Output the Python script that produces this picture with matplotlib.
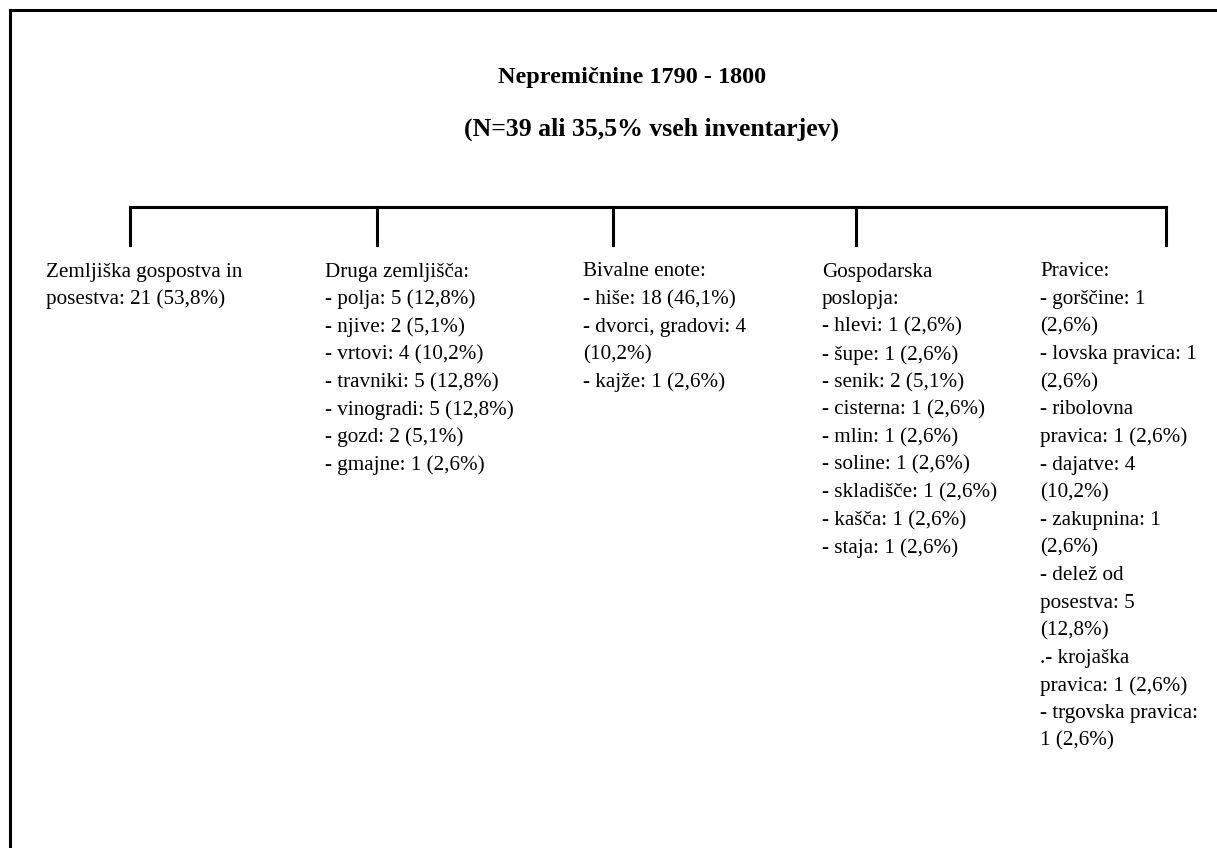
import matplotlib
matplotlib.use('Agg')
import matplotlib.pyplot as plt

TITLE = 'Nepremičnine 1790 - 1800'
SUBTITLE = '(N=39 ali 35,5% vseh inventarjev)'

# one list of text lines per branch of the tree (line breaks as in the original)
ZEMLJISKA = ['Zemljiška gospostva in', 'posestva: 21 (53,8%)']
DRUGA = ['Druga zemljišča:', '- polja: 5 (12,8%)', '- njive: 2 (5,1%)',
         '- vrtovi: 4 (10,2%)', '- travniki: 5 (12,8%)', '- vinogradi: 5 (12,8%)',
         '- gozd: 2 (5,1%)', '- gmajne: 1 (2,6%)']
BIVALNE = ['Bivalne enote:', '- hiše: 18 (46,1%)', '- dvorci, gradovi: 4',
           '(10,2%)', '- kajže: 1 (2,6%)']
GOSPODARSKA = ['Gospodarska', 'poslopja:', '- hlevi: 1 (2,6%)', '- šupe: 1 (2,6%)',
               '- senik: 2 (5,1%)', '- cisterna: 1 (2,6%)', '- mlin: 1 (2,6%)',
               '- soline: 1 (2,6%)', '- skladišče: 1 (2,6%)', '- kašča: 1 (2,6%)',
               '- staja: 1 (2,6%)']
PRAVICE = ['Pravice:', '- gorščine: 1', '(2,6%)', '- lovska pravica: 1', '(2,6%)',
           '- ribolovna', 'pravica: 1 (2,6%)', '- dajatve: 4', '(10,2%)',
           '- zakupnina: 1', '(2,6%)', '- delež od', 'posestva: 5', '(12,8%)',
           '.- krojaška', 'pravica: 1 (2,6%)', '- trgovska pravica:', '1 (2,6%)']

BRANCHES = [ZEMLJISKA, DRUGA, BIVALNE, GOSPODARSKA, PRAVICE]

# layout in pixel units
W, H = 1217, 848
TICK_X = [130, 377, 613, 856, 1166]
TEXT_X = [46, 325, 583, 822, 1040]
BAR_Y, TICK_END = 207, 245
LINE0, STEP = 272, 27.6

fig = plt.figure(figsize=(W / 100, H / 100), dpi=100)
ax = fig.add_axes([0, 0, 1, 1])
ax.set_xlim(0, W)
ax.set_ylim(H, 0)
ax.axis('off')

lw = 2.2
# frame: only top and left edges are visible
ax.plot([10, W + 5], [10, 10], color='black', lw=lw, solid_capstyle='projecting')
ax.plot([10, 10], [10, H + 5], color='black', lw=lw, solid_capstyle='projecting')

ax.text(632, 78, TITLE, ha='center', va='center', fontsize=17.5,
        fontweight='bold', family='Liberation Serif')
ax.text(652, 129, SUBTITLE, ha='center', va='center', fontsize=18.5,
        fontweight='bold', family='Liberation Serif')

# tree connector
ax.plot([TICK_X[0], TICK_X[-1]], [BAR_Y, BAR_Y], color='black', lw=lw,
        solid_capstyle='projecting')
for x in TICK_X:
    ax.plot([x, x], [BAR_Y, TICK_END], color='black', lw=lw,
            solid_capstyle='projecting')

for x, lines in zip(TEXT_X, BRANCHES):
    for i, line in enumerate(lines):
        ax.text(x, LINE0 + i * STEP, line, ha='left', va='center',
                fontsize=15.2, family='Liberation Serif')

fig.savefig('out.png', dpi=100, facecolor='white')
